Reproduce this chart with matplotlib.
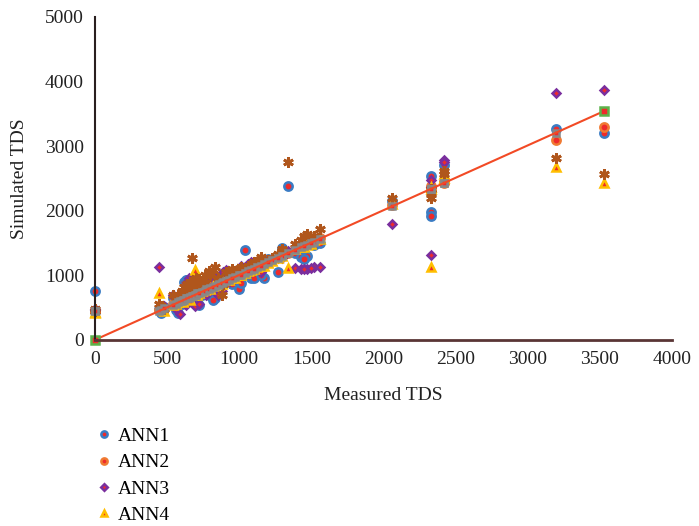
import numpy as np
import matplotlib
matplotlib.use("Agg")
import matplotlib.pyplot as plt

plt.rcParams['font.family'] = ['Liberation Serif', 'DejaVu Serif']

# measured TDS (shared x), simulated TDS for each model
measured = [0, 0, 445, 460, 480, 560, 575, 590, 610, 630, 650, 670, 690, 710, 740,
            770, 800, 830, 860, 890, 930, 970, 1000, 1040, 1080, 1120, 1170, 1230,
            1300, 1340, 1390, 1430, 1470, 1520, 1560, 2060, 2330, 2330, 2330, 2420,
            2420, 3200, 3530,
            540, 600, 620, 640, 660, 680, 700, 720, 760, 790, 820, 850, 880, 910,
            950, 1010, 1060, 1100, 1150, 1200, 1270, 1450, 1500]
ann1 = [760, 430, 470, 420, 500, 460, 410, 560, 600, 930, 910, 620, 880, 580, 700,
        820, 760, 640, 880, 920, 980, 1010, 780, 1390, 950, 1130, 960, 1240,
        1420, 2385, 1340, 1280, 1290, 1470, 1500, 2150, 2540, 1980, 1920, 2700,
        2440, 3270, 3200,
        640, 560, 900, 920, 880, 930, 850, 540, 900, 700, 620, 900, 960, 990,
        860, 880, 1100, 960, 1000, 1250, 1050, 1250, 1530]
ann2 = [450, 440, 455, 470, 490, 560, 580, 600, 620, 640, 660, 680, 700, 720, 750,
        780, 810, 840, 870, 900, 940, 980, 1010, 1050, 1090, 1130, 1180, 1240,
        1310, 1350, 1400, 1440, 1480, 1530, 1570, 2090, 2380, 2350, 2300, 2450,
        2430, 3100, 3290,
        550, 610, 630, 650, 670, 690, 710, 730, 770, 800, 830, 860, 890, 920,
        960, 1020, 1070, 1110, 1160, 1210, 1280, 1460, 1510]
ann3 = [460, 470, 1120, 450, 520, 480, 600, 400, 650, 540, 950, 700, 520, 960, 760,
        700, 880, 820, 920, 1050, 900, 1000, 1060, 1100, 1200, 1150, 1230, 1250,
        1260, 1380, 1110, 1100, 1100, 1120, 1130, 1800, 2470, 1310, 2360, 2780,
        2750, 3820, 3860,
        700, 650, 600, 900, 620, 950, 880, 560, 800, 980, 1000, 700, 760, 1080,
        960, 1150, 1180, 1200, 1050, 1220, 1270, 1100, 1110]
ann4 = [420, 430, 730, 470, 440, 560, 580, 600, 580, 650, 640, 700, 1080, 690, 760,
        800, 790, 850, 850, 900, 930, 960, 1000, 1030, 1080, 1120, 1150, 1220,
        1300, 1110, 1400, 1430, 1460, 1550, 1560, 2100, 2340, 1120, 2360, 2560,
        2500, 2670, 2430,
        540, 600, 640, 660, 620, 700, 740, 720, 770, 820, 840, 870, 860, 920,
        960, 1010, 1060, 1090, 1140, 1190, 1260, 1440, 1490]
ann5 = [470, 450, 560, 520, 480, 600, 700, 640, 720, 760, 780, 1270, 820, 860, 860,
        900, 1000, 1130, 930, 860, 1020, 1060, 1100, 1100, 1160, 1200, 1230, 1260,
        1400, 2755, 1480, 1550, 1640, 1600, 1720, 2200, 2340, 2200, 2280, 2620,
        2560, 2810, 2570,
        700, 760, 820, 860, 900, 880, 960, 940, 1000, 1060, 1080, 950, 700, 1050,
        1100, 1120, 1150, 1200, 1280, 1240, 1330, 1600, 1560]
ann6 = [450, 450, 450, 460, 490, 560, 580, 600, 620, 640, 650, 680, 700, 720, 740,
        780, 800, 840, 860, 900, 930, 970, 1000, 1040, 1080, 1120, 1170, 1230,
        1300, 1350, 1390, 1430, 1470, 1520, 1560, 2070, 2330, 2330, 2330, 2420,
        2420, 3200, 3540,
        540, 600, 620, 640, 660, 680, 700, 720, 760, 790, 820, 850, 880, 910,
        950, 1010, 1060, 1100, 1150, 1200, 1270, 1450, 1500]
line_x = [0, 3530]
line_y = [0, 3540]

red = '#ee2b2b'

fig = plt.figure(figsize=(6.99, 5.26), dpi=100)
ax = fig.add_axes([0.136, 0.354, 0.825, 0.614])

kw = dict(ls='none', clip_on=False)
ax.plot(measured, ann1, 'o', ms=6, mfc=red, mec='#3a7cc4', mew=1.8, label='ANN1', **kw)
ax.plot(measured, ann2, 'o', ms=6, mfc=red, mec='#f07a32', mew=1.8, label='ANN2', **kw)
ax.plot(measured, ann3, 'D', ms=4.5, mfc=red, mec='#7a2f9e', mew=1.8, label='ANN3', **kw)
ax.plot(measured, ann4, '^', ms=6, mfc=red, mec='#ffbf00', mew=1.8, label='ANN4', **kw)
ax.plot(measured, ann5, marker=(6, 2, 0), ms=7.5, mec='#b0561c', mew=2, **kw)
ax.plot(measured, ann6, 's', ms=5, mfc=red, mec='#888888', mew=1.8, **kw)
ax.plot(line_x, line_y, '-', color='#f24a25', lw=1.5, marker='s', ms=5.5,
        mfc=red, mec='#5cb34a', mew=1.8, clip_on=False)

ax.set_xlim(0, 4000)
ax.set_ylim(0, 5000)
ax.set_xticks(np.arange(0, 4001, 500))
ax.set_yticks(np.arange(0, 5001, 1000))
ax.tick_params(length=0, labelsize=14, colors='#222222', pad=8)
ax.set_xlabel('Measured TDS', fontsize=14, labelpad=14, color='#222222')
ax.set_ylabel('Simulated TDS', fontsize=14, labelpad=12, color='#222222')
for s in ['top', 'right']:
    ax.spines[s].set_visible(False)
ax.spines['left'].set_color('#2a1f1f')
ax.spines['left'].set_linewidth(1.5)
ax.spines['bottom'].set_color('#5a3535')
ax.spines['bottom'].set_linewidth(2)
ax.patch.set_alpha(0)

leg = fig.legend(loc='upper left', bbox_to_anchor=(0.127, 0.206), frameon=False,
                 fontsize=14, handlelength=0.6, handletextpad=0.4, labelspacing=0.45,
                 borderpad=0, markerscale=0.75)

fig.savefig('out.png', dpi=100)
